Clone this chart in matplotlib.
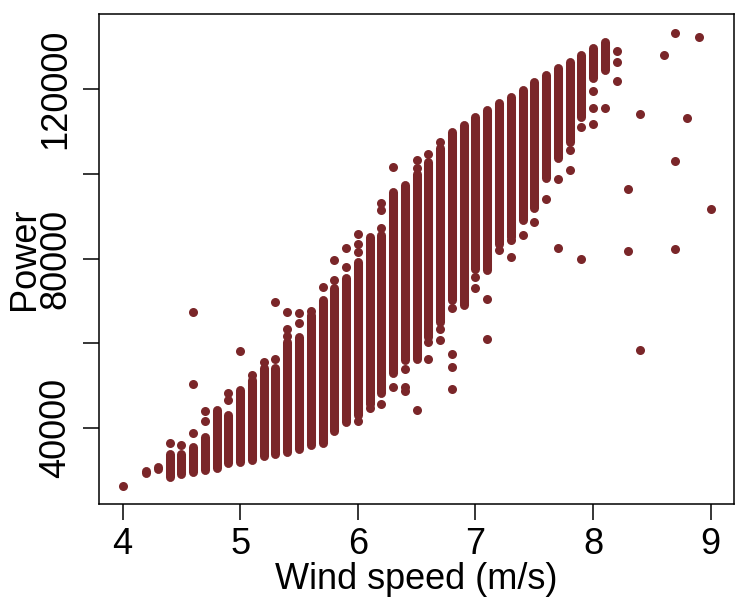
import numpy as np
import matplotlib
matplotlib.use("Agg")
import matplotlib.pyplot as plt

plt.rcParams['font.family'] = ['Liberation Sans', 'DejaVu Sans']

# dense columns of points (wind speed, lowest and highest power in the run)
wind = [4.2, 4.3, 4.4, 4.5, 4.6, 4.7, 4.8, 4.9, 5.0, 5.1, 5.2, 5.3, 5.4, 5.5,
        5.6, 5.7, 5.8, 5.9, 6.0, 6.1, 6.2, 6.3, 6.4, 6.5, 6.6, 6.7, 6.8, 6.9,
        7.0, 7.1, 7.2, 7.3, 7.4, 7.5, 7.6, 7.7, 7.8, 7.9, 8.0, 8.1]
low = [29400, 30300, 28500, 29100, 29700, 30100, 30700, 31700, 32050, 32600,
       33400, 34000, 34400, 35200, 36000, 36550, 39300, 41500, 43050, 45800,
       48200, 52900, 56000, 56400, 61500, 65050, 70200, 69000, 77650, 77250,
       83550, 85000, 89050, 92000, 98900, 103600, 107550, 113400, 122500, 124400]
high = [30000, 30900, 34000, 34000, 35600, 37950, 44400, 43100, 49000, 51300,
        54100, 54300, 60350, 61500, 66650, 70200, 72950, 75300, 79200, 85100,
        85500, 95750, 97300, 100000, 102800, 106000, 109900, 111600, 113300, 115000,
        116600, 118150, 119700, 121700, 123250, 124850, 126400, 128000, 129550, 131100]

# isolated points
out_x = [4.0, 4.4, 4.5, 4.6, 4.6, 4.6, 4.7, 4.7, 4.9, 4.9, 5.0, 5.1, 5.2,
         5.3, 5.3, 5.4, 5.4, 5.4, 5.5, 5.5, 5.6, 5.7, 5.8, 5.8, 5.9, 5.9,
         6.0, 6.0, 6.0, 6.0, 6.1, 6.2, 6.2, 6.2, 6.2, 6.3, 6.3,
         6.4, 6.4, 6.4, 6.5, 6.5, 6.5, 6.6, 6.6, 6.6, 6.7, 6.7, 6.7,
         6.8, 6.8, 6.8, 6.8, 7.0, 7.0, 7.1, 7.1, 7.2, 7.3, 7.3, 7.4, 7.5,
         7.6, 7.7, 7.7, 7.8, 7.8, 7.9, 7.9, 8.0, 8.0, 8.0, 8.1,
         8.2, 8.2, 8.2, 8.3, 8.3, 8.4, 8.4, 8.6, 8.7, 8.7, 8.7, 8.8, 8.9, 9.0]
out_y = [26400, 36500, 36150, 38750, 50400, 67400, 41650, 44100, 48300, 46750,
         58150, 52500, 55500, 56300, 69650, 63500, 61700, 67300, 64850, 67200,
         67650, 73300, 79600, 74900, 82500, 78050,
         85900, 83550, 81600, 41650, 44650, 93000, 91400, 87100, 45600, 101500, 49750,
         53900, 49750, 48800, 101250, 103200, 44400, 104600, 60350, 56400,
         107500, 63500, 60750,
         68250, 57600, 54450, 49350, 75700, 72950, 70400, 61150, 82000, 84300,
         80400, 85500, 88600,
         94000, 98700, 82500, 105550, 100850, 111050, 79800, 119500, 115550, 111750,
         115400, 128900, 126400, 121800, 96350, 81750, 114050, 58400, 128000,
         133300, 103050, 82150, 113100, 132200, 91650]

col = '#7a2629'
dot = 6.5  # marker diameter in points

fig = plt.figure(figsize=(7.5, 6), dpi=100)
ax = fig.add_axes([0.132, 0.16, 0.847, 0.816])

ax.vlines(wind, low, high, colors=col, linewidth=dot, capstyle='round')
ax.scatter(out_x, out_y, s=dot ** 2, color=col, linewidths=0)

allv = low + high + out_y
pad = 0.04 * (max(allv) - min(allv))
ax.set_xlim(3.8, 9.2)
ax.set_ylim(min(allv) - pad, max(allv) + pad)

ax.set_xticks([4, 5, 6, 7, 8, 9])
ax.set_yticks([40000, 60000, 80000, 100000, 120000])
ax.set_yticklabels(['40000', '', '80000', '', '120000'])
for lab in ax.get_yticklabels():
    lab.set_rotation(90)
    lab.set_va('center')

ax.tick_params(axis='both', direction='out', length=11.5, width=1.1,
               labelsize=26, color='black')
ax.tick_params(axis='x', pad=5)
ax.tick_params(axis='y', pad=7)
for s in ax.spines.values():
    s.set_linewidth(1.1)

ax.set_xlabel('Wind speed (m/s)', fontsize=26)
ax.set_ylabel('Power', fontsize=26)
ax.xaxis.set_label_coords(0.5, -0.118)
ax.yaxis.set_label_coords(-0.09, 0.5)

fig.savefig('out.png', dpi=100)
